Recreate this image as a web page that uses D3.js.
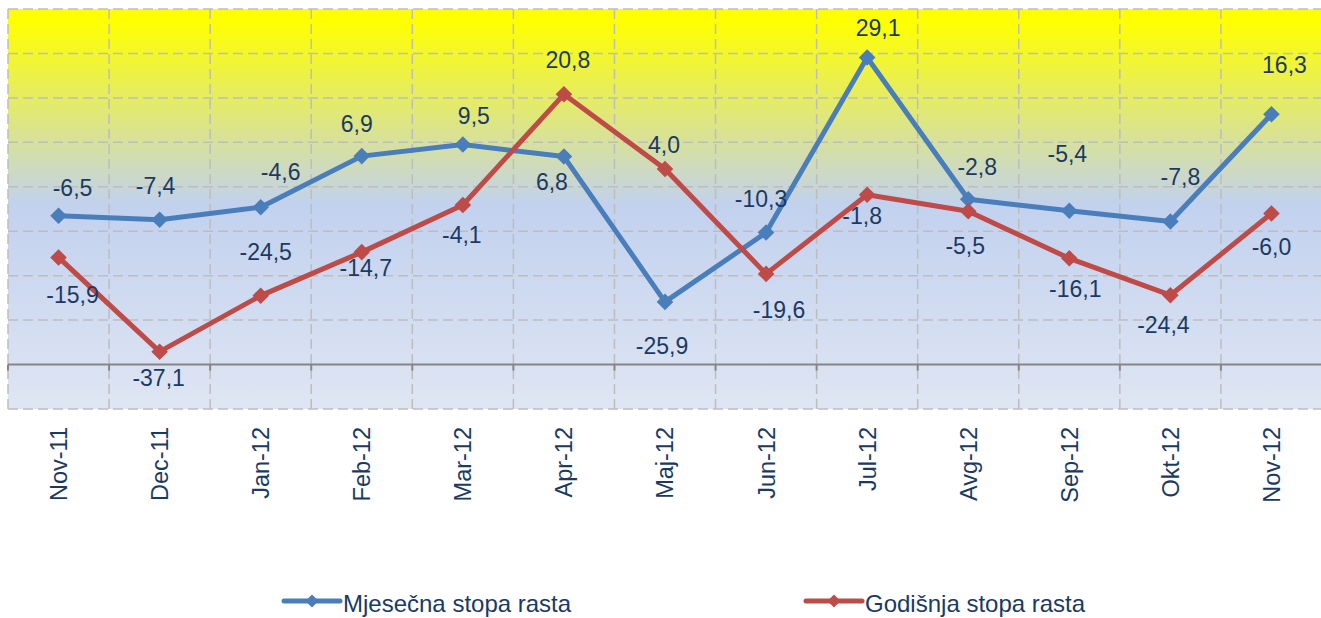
<!DOCTYPE html>
<html>
<head>
<meta charset="utf-8">
<script src="https://cdn.jsdelivr.net/npm/d3@7"></script>
<style>
  body { margin: 0; background: #fff; }
  svg { display: block; font-family: "Liberation Sans", Arial, sans-serif; }
</style>
</head>
<body>
<svg id="chart" width="1321" height="618"></svg>
<script>
// data
const categories = ["Nov-11", "Dec-11", "Jan-12", "Feb-12", "Mar-12", "Apr-12", "Maj-12",
                    "Jun-12", "Jul-12", "Avg-12", "Sep-12", "Okt-12", "Nov-12"];
const monthly = [-6.5, -7.4, -4.6, 6.9, 9.5, 6.8, -25.9, -10.3, 29.1, -2.8, -5.4, -7.8, 16.3];
const annual = [-15.9, -37.1, -24.5, -14.7, -4.1, 20.8, 4.0, -19.6, -1.8, -5.5, -16.1, -24.4, -6.0];
const seriesNames = ["Mjesečna stopa rasta", "Godišnja stopa rasta"];
const yTicks = [-50, -40, -30, -20, -10, 0, 10, 20, 30, 40];

// label placement (dx, dy to baseline) - labels were moved by hand in the original
const monthlyLabelPos = [[14, -20], [-4, -26], [20, -27], [-5, -24], [11, -21], [-12, 33], [-3, 52],
                         [-5, -26], [11, -21], [9, -24], [-2, -49], [10, -36], [13, -41]];
const annualLabelPos = [[14, 46], [-1, 34], [5, -36], [4, 24], [-1, 38], [4, -26], [-1, -16],
                        [13, 44], [-5, 29], [-3, 43], [6, 39], [-7, 38], [0, 42]];

const plotLeft = 8, plotRight = 1322, plotTop = 9, plotBottom = 409;
const textColor = "#1B3A63";
const colors = ["#4A7EBB", "#BE4B48"];

var svg = d3.select("#chart");

var x = d3.scaleBand().domain(categories).range([plotLeft, plotRight]);
var y = d3.scaleLinear().domain([-50, 40]).range([plotBottom, plotTop]);

var fmt = d3.formatLocale({decimal: ",", thousands: ".", grouping: [3], currency: ["", ""], minus: "-"}).format(".1f");

// background gradient
var grad = svg.append("defs").append("linearGradient")
    .attr("id", "bg").attr("x1", 0).attr("y1", 0).attr("x2", 0).attr("y2", 1);
grad.append("stop").attr("offset", "0%").attr("stop-color", "#FFFF00");
grad.append("stop").attr("offset", "3%").attr("stop-color", "#FFFF00");
grad.append("stop").attr("offset", "49%").attr("stop-color", "#C2D1EE");
grad.append("stop").attr("offset", "100%").attr("stop-color", "#DFE6F3");

svg.append("rect")
    .attr("x", plotLeft).attr("y", plotTop)
    .attr("width", plotRight - plotLeft).attr("height", plotBottom - plotTop)
    .attr("fill", "url(#bg)");

// horizontal grid
var grid = svg.append("g");
grid.selectAll("line.h")
    .data(yTicks.filter(d => d != -40))
    .enter()
    .append("line")
    .attr("class", "h")
    .attr("x1", plotLeft).attr("x2", plotRight)
    .attr("y1", d => y(d)).attr("y2", d => y(d))
    .attr("stroke", "#BDBDBD")
    .attr("stroke-width", 1.5)
    .attr("stroke-dasharray", "10,5");

// vertical grid at category boundaries
var bounds = d3.range(categories.length + 1).map(i => plotLeft + i * x.step());
grid.selectAll("line.v")
    .data(bounds)
    .enter()
    .append("line")
    .attr("class", "v")
    .attr("x1", d => d).attr("x2", d => d)
    .attr("y1", plotTop).attr("y2", plotBottom)
    .attr("stroke", "#BDBDBD")
    .attr("stroke-width", 1.5)
    .attr("stroke-dasharray", "10,5");

// category axis crosses at -40
svg.append("line")
    .attr("x1", plotLeft).attr("x2", plotRight)
    .attr("y1", y(-40)).attr("y2", y(-40))
    .attr("stroke", "#868686").attr("stroke-width", 2);
svg.append("g").selectAll("line")
    .data(bounds)
    .enter()
    .append("line")
    .attr("x1", d => d).attr("x2", d => d)
    .attr("y1", y(-40)).attr("y2", y(-40) + 6)
    .attr("stroke", "#868686").attr("stroke-width", 2);

// rotated month labels
var xAxis = svg.append("g")
    .attr("transform", "translate(0," + plotBottom + ")")
    .call(d3.axisBottom(x).tickSize(0).tickPadding(0));
xAxis.select(".domain").remove();
xAxis.selectAll("text")
    .attr("transform", "rotate(-90)")
    .attr("x", -18).attr("y", 0).attr("dy", "0.36em")
    .attr("text-anchor", "end")
    .attr("fill", textColor)
    .style("font-size", "23.5px")
    .style("font-family", "'Liberation Sans', Arial, sans-serif");

// lines
var line = d3.line()
    .x((d, i) => x(categories[i]) + x.bandwidth() / 2)
    .y(d => y(d));

var diamond = d3.symbol().type(d3.symbolDiamond2).size(175);

[monthly, annual].forEach(function (vals, s) {
    var g = svg.append("g");
    g.append("path")
        .datum(vals)
        .attr("d", line)
        .attr("fill", "none")
        .attr("stroke", colors[s])
        .attr("stroke-width", 5)
        .attr("stroke-linejoin", "round");
    g.selectAll("path.m")
        .data(vals)
        .enter()
        .append("path")
        .attr("class", "m")
        .attr("d", diamond)
        .attr("transform", (d, i) => "translate(" + (x(categories[i]) + x.bandwidth() / 2) + "," + y(d) + ")")
        .attr("fill", colors[s]);
});

// data labels
[[monthly, monthlyLabelPos], [annual, annualLabelPos]].forEach(function (p) {
    svg.append("g").selectAll("text")
        .data(p[0])
        .enter()
        .append("text")
        .attr("x", (d, i) => x(categories[i]) + x.bandwidth() / 2 + p[1][i][0])
        .attr("y", (d, i) => y(d) + p[1][i][1])
        .attr("text-anchor", "middle")
        .attr("fill", textColor)
        .style("font-size", "23px")
        .text(d => fmt(d));
});

// legend
var legendX = [284, 806];
var legend = svg.append("g").selectAll("g")
    .data(seriesNames)
    .enter()
    .append("g")
    .attr("transform", (d, i) => "translate(" + legendX[i] + ",601)");
legend.append("line")
    .attr("x1", 0).attr("x2", 56)
    .attr("stroke", (d, i) => colors[i])
    .attr("stroke-width", 5)
    .attr("stroke-linecap", "round");
legend.append("path")
    .attr("d", d3.symbol().type(d3.symbolDiamond2).size(110))
    .attr("transform", "translate(28,0)")
    .attr("fill", (d, i) => colors[i]);
legend.append("text")
    .attr("x", 59).attr("y", 11)
    .attr("fill", textColor)
    .style("font-size", "24px")
    .text(d => d);
</script>
</body>
</html>
